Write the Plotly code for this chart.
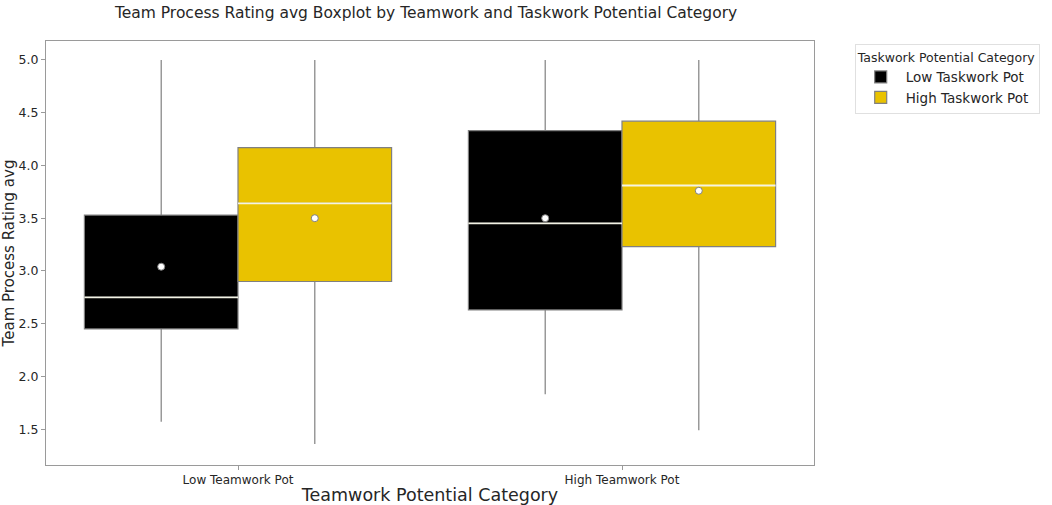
import plotly.graph_objects as go

teamwork = ['Low Teamwork Pot', 'High Teamwork Pot']
taskwork = ['Low Taskwork Pot', 'High Taskwork Pot']
colors = ['#000000', '#E9C200']

# stats per taskwork category, one value per teamwork category
q1 = {'Low Taskwork Pot': [2.45, 2.63], 'High Taskwork Pot': [2.90, 3.23]}
median = {'Low Taskwork Pot': [2.75, 3.45], 'High Taskwork Pot': [3.64, 3.81]}
q3 = {'Low Taskwork Pot': [3.53, 4.33], 'High Taskwork Pot': [4.17, 4.42]}
lower = {'Low Taskwork Pot': [1.57, 1.83], 'High Taskwork Pot': [1.36, 1.49]}
upper = {'Low Taskwork Pot': [5.0, 5.0], 'High Taskwork Pot': [5.0, 5.0]}
mean = {'Low Taskwork Pot': [3.04, 3.50], 'High Taskwork Pot': [3.50, 3.76]}

box_w = 0.4
offsets = [-0.2, 0.2]

fig = go.Figure()
for k, cat in enumerate(taskwork):
    xs = [i + offsets[k] for i in range(len(teamwork))]
    fig.add_trace(go.Box(
        x=xs, q1=q1[cat], median=median[cat], q3=q3[cat],
        lowerfence=lower[cat], upperfence=upper[cat],
        name=cat, width=box_w, whiskerwidth=0,
        fillcolor=colors[k], line=dict(color='#808080', width=1.2),
        boxpoints=False, hoverinfo='skip'))

# median lines (light) and mean markers
for k, cat in enumerate(taskwork):
    for i in range(len(teamwork)):
        xc = i + offsets[k]
        fig.add_trace(go.Scatter(
            x=[xc - box_w / 2, xc + box_w / 2], y=[median[cat][i]] * 2,
            mode='lines', line=dict(color='rgba(255,255,240,0.9)', width=1.8),
            showlegend=False, hoverinfo='skip'))
    fig.add_trace(go.Scatter(
        x=[i + offsets[k] for i in range(len(teamwork))], y=mean[cat],
        mode='markers', showlegend=False,
        marker=dict(color='white', size=7, line=dict(color='#808080', width=1))))

fig.update_layout(
    width=1052, height=505,
    paper_bgcolor='white', plot_bgcolor='white',
    font=dict(family='DejaVu Sans', color='#262626'),
    margin=dict(l=46, r=234, t=41, b=40),
    title=dict(text='Team Process Rating avg Boxplot by Teamwork and Taskwork Potential Category',
               x=0.405, xanchor='center', y=0.975, yanchor='middle', font=dict(size=15.5)),
    legend=dict(title=dict(text='Taskwork Potential Category', font=dict(size=12.5)),
                x=1.053, y=0.992, xanchor='left', yanchor='top', itemwidth=40,
                tracegroupgap=2,
                bordercolor='#e0e0e0', borderwidth=1, font=dict(size=13.5)),
    showlegend=True,
)
fig.update_xaxes(range=[-0.5, 1.5], tickmode='array', tickvals=[0, 1], ticktext=teamwork,
                 showgrid=False, zeroline=False, showline=True, linecolor='#9a9a9a', mirror=True,
                 ticks='outside', ticklen=4, tickcolor='#9a9a9a', tickfont=dict(size=12),
                 automargin=False,
                 title=dict(text='Teamwork Potential Category', font=dict(size=17.5), standoff=2))
fig.update_yaxes(range=[1.16, 5.18], tickvals=[1.5, 2.0, 2.5, 3.0, 3.5, 4.0, 4.5, 5.0],
                 tickformat='.1f', showgrid=False, zeroline=False, showline=True,
                 linecolor='#9a9a9a', mirror=True, ticks='outside', ticklen=4, tickcolor='#9a9a9a',
                 tickfont=dict(size=12.5), automargin=False,
                 title=dict(text='Team Process Rating avg', font=dict(size=15), standoff=3))

# drop the default page margin so the figure sits at the window's corner
fig.write_html('out.html', config={'displayModeBar': False},
               post_script="document.body.style.margin='0';")
